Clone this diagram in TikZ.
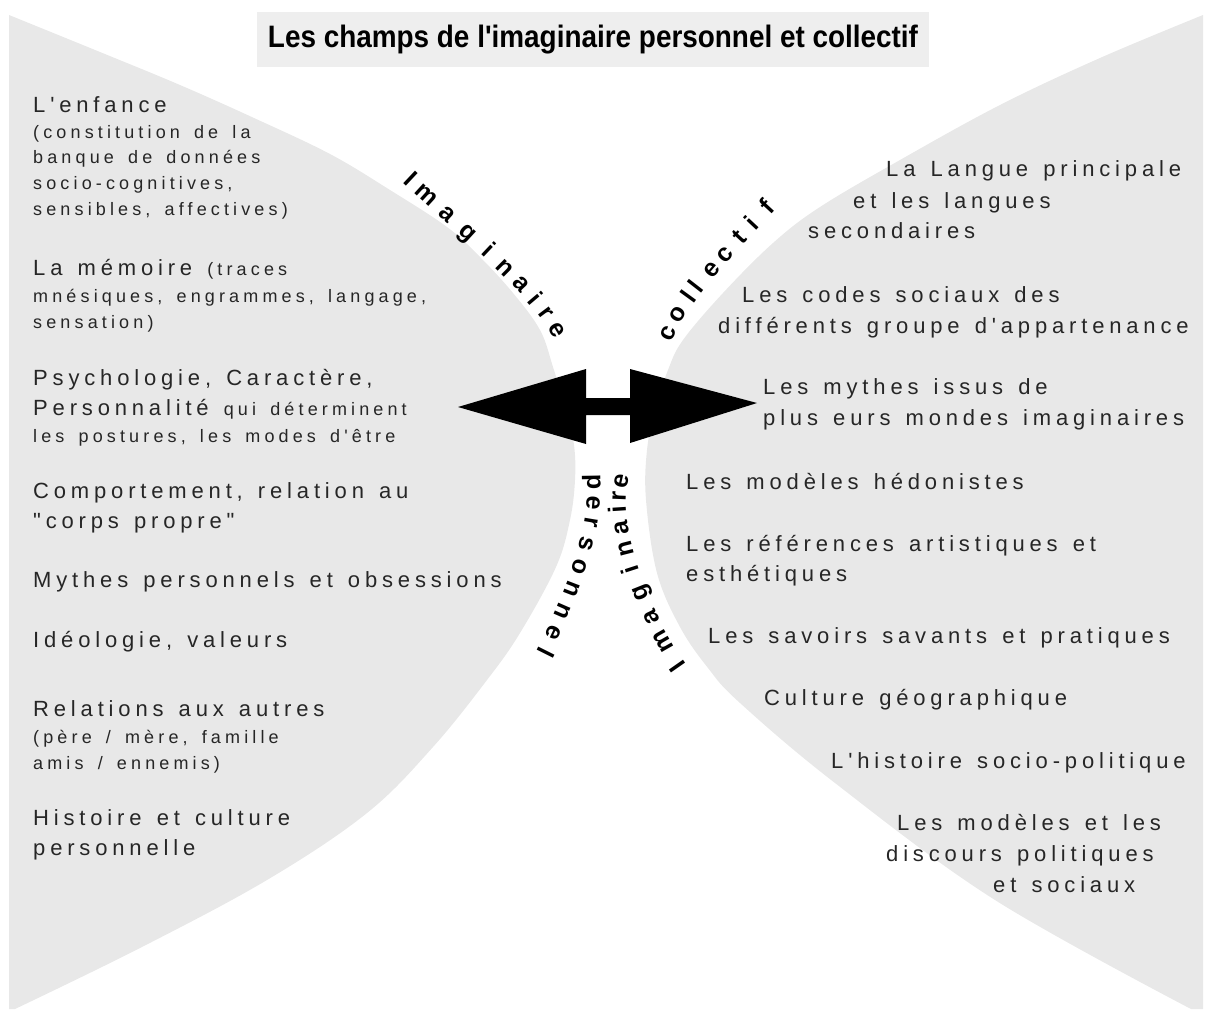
\documentclass[tikz,border=0pt]{standalone}
\usepackage{fontspec}
\setmainfont{Liberation Sans}
\newfontfamily\grandefonte[Ligatures={TeXOff,CommonOff},LetterSpace=22,WordSpace=1.38]{Liberation Sans}
\newfontfamily\petitefonte[Ligatures={TeXOff,CommonOff},LetterSpace=23,WordSpace=1.55]{Liberation Sans}
\newfontfamily\titrefonte[Ligatures=TeXOff]{Liberation Sans}
\newcommand{\grand}{\grandefonte\fontsize{22}{26}\selectfont}
\newcommand{\petit}{\petitefonte\fontsize{18}{22}\selectfont}
\definecolor{fond}{gray}{0.91}
\definecolor{cadre}{gray}{0.935}

\begin{document}
\begin{tikzpicture}[x=1pt,y=-1pt,
		% Styles
		zone/.style={fill=fond, draw=none}, % Les deux champs gris
		ligne/.style={anchor=base west, inner sep=0pt, text=black!85, font=\grand}, % Texte normal
		lignep/.style={anchor=base west, inner sep=0pt, text=black!85, font=\petit}, % Texte plus petit
		lettre/.style={sloped, allow upside down, anchor=mid, inner sep=0pt,
			font=\titrefonte\bfseries\fontsize{25}{28}\selectfont}, % Lettres le long des courbes
		titre/.style={fill=cadre, minimum width=672, minimum height=55, inner sep=0pt,
			font=\titrefonte\bfseries\fontsize{31}{34}\selectfont}]
	\useasboundingbox (0,0) rectangle (1209,1009);

	% Champ de gauche (imaginaire personnel)
	\fill[zone] plot[smooth, tension=.6] coordinates {(9,15) (100,52) (180,85) (254,118) (330,154)
		(390,190) (447,227) (480,257) (513,293) (540,330) (553,367) (566,410) (574,445) (575,480)
		(570,520) (556,567) (520,633) (487,680) (433,747) (367,813) (267,880) (140,948) (15,1009)}
		-- (9,1009) -- cycle;
	% Champ de droite (imaginaire collectif)
	\fill[zone] plot[smooth, tension=.6] coordinates {(1203,15) (1100,58) (1000,105) (900,160) (820,207)
		(773,243) (723,293) (683,340) (668,370) (655,410) (647,450) (646,500) (657,573) (680,627)
		(708,668) (740,703) (835,783) (995,900) (1191,1009)}
		-- (1203,1009) -- cycle;

	% Titre
	\node[titre] (titre) at (593,39.5) {\scalebox{0.9}[1]{Les champs de l'imaginaire personnel et collectif}};

	% Double fleche centrale
	\fill (458,407) -- (586,369) -- (586,398) -- (630,398) -- (630,369) -- (757,403)
		-- (630,443) -- (630,415) -- (586,415) -- (586,444) -- cycle;

	% Colonne de gauche
	\node[ligne] (enfance) at (33,112) {L'enfance};
	\node[lignep] (enfance2) at (33,138) {(constitution de la};
	\node[lignep] (enfance3) at (33,163) {banque de données};
	\node[lignep] (enfance4) at (33,189) {socio-cognitives,};
	\node[lignep] (enfance5) at (33,215) {sensibles, affectives)};
	\node[ligne] (memoire) at (33,275) {La mémoire {\petit (traces}};
	\node[lignep] (memoire2) at (33,302) {mnésiques, engrammes, langage,};
	\node[lignep] (memoire3) at (33,328) {sensation)};
	\node[ligne] (psycho) at (33,385) {Psychologie, Caractère,};
	\node[ligne] (psycho2) at (33,415) {Personnalité {\petit qui déterminent}};
	\node[lignep] (psycho3) at (33,442) {les postures, les modes d'être};
	\node[ligne] (corps) at (33,498) {Comportement, relation au};
	\node[ligne] (corps2) at (33,528) {"corps propre"};
	\node[ligne] (mythes) at (33,587) {Mythes personnels et obsessions};
	\node[ligne] (ideo) at (33,647) {Idéologie, valeurs};
	\node[ligne] (relations) at (33,716) {Relations aux autres};
	\node[lignep] (relations2) at (33,743) {(père / mère, famille};
	\node[lignep] (relations3) at (33,769) {amis / ennemis)};
	\node[ligne] (histoire) at (33,825) {Histoire et culture};
	\node[ligne] (histoire2) at (33,855) {personnelle};

	% Colonne de droite
	\node[ligne] (langue) at (886,176) {La Langue principale};
	\node[ligne] (langue2) at (853,208) {et les langues};
	\node[ligne] (langue3) at (808,238) {secondaires};
	\node[ligne] (codes) at (742,302) {Les codes sociaux des};
	\node[ligne] (codes2) at (718,333) {différents groupe d'appartenance};
	\node[ligne] (mondes) at (763,394) {Les mythes issus de};
	\node[ligne] (mondes2) at (763,425) {plus eurs mondes imaginaires};
	\node[ligne] (hedon) at (686,489) {Les modèles hédonistes};
	\node[ligne] (refs) at (686,551) {Les références artistiques et};
	\node[ligne] (refs2) at (686,581) {esthétiques};
	\node[ligne] (savoirs) at (708,643) {Les savoirs savants et pratiques};
	\node[ligne] (geo) at (764,705) {Culture géographique};
	\node[ligne] (histpol) at (831,768) {L'histoire socio-politique};
	\node[ligne] (discours) at (897,830) {Les modèles et les};
	\node[ligne] (discours2) at (886,861) {discours politiques};
	\node[ligne] (discours3) at (993,892) {et sociaux};

	% Mots courbes le long des champs
	\path (407,183) .. controls (455,228) and (525,285) .. (553,332)
		foreach \p/\c [count=\i] in {0/I,.111/m,.24/a,.362/g,.481/i,.593/n,.697/a,.795/i,.89/r,1/e}
		{node[lettre, pos=\p] (imh\i) {\c}};
	\path (672,335) .. controls (690,295) and (735,250) .. (771,211)
		foreach \p/\c [count=\i] in {0/c,.148/o,.286/l,.363/l,.503/e,.618/c,.755/t,.861/i,1/f}
		{node[lettre, pos=\p] (col\i) {\c}};
	\path (590,482) .. controls (591,540) and (565,600) .. (540,650)
		foreach \p/\c [count=\i] in {0/p,.119/e,.227/r,.349/s,.48/o,.612/n,.741/n,.873/e,1/l}
		{node[lettre, pos=\p] (per\i) {\c}};
	\path (682,663) .. controls (645,610) and (615,525) .. (625,482)
		foreach \p/\c [count=\i] in {0/I,.14/m,.264/a,.386/g,.504/i,.606/n,.715/a,.816/i,.898/r,1/e}
		{node[lettre, pos=\p] (imb\i) {\c}};

\end{tikzpicture}
\end{document}
